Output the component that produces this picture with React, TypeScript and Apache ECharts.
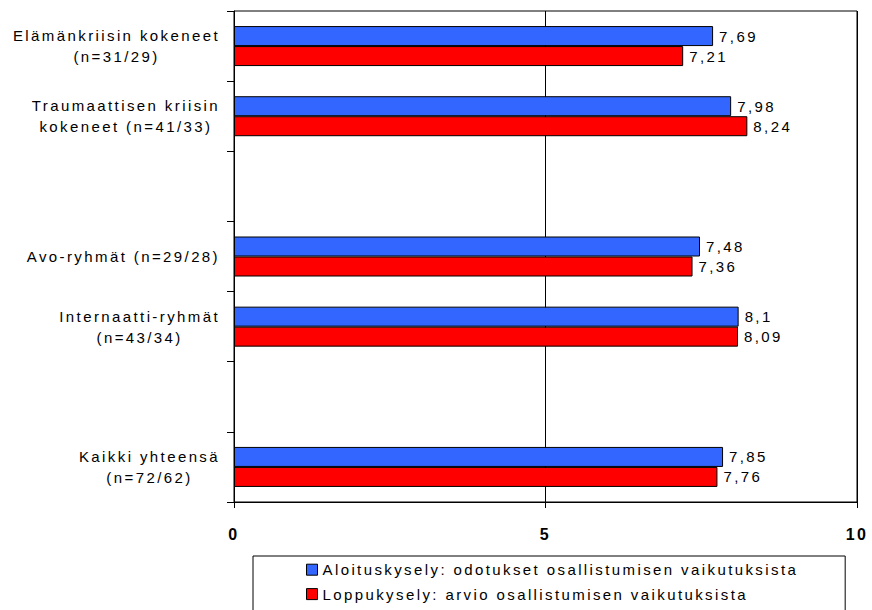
import React, { useEffect, useRef } from 'react';
import * as echarts from 'echarts';

// ---- data ----
const categories = [
  'Elämänkriisin kokeneet\n(n=31/29)',
  'Traumaattisen kriisin\nkokeneet (n=41/33)',
  '',
  'Avo-ryhmät (n=29/28)',
  'Internaatti-ryhmät\n(n=43/34)',
  '',
  'Kaikki yhteensä\n(n=72/62)',
];
const seriesNames = [
  'Aloituskysely: odotukset osallistumisen vaikutuksista',
  'Loppukysely: arvio osallistumisen vaikutuksista',
];
const startValues = [7.69, 7.98, '-', 7.48, 8.1, '-', 7.85];
const endValues = [7.21, 8.24, '-', 7.36, 8.09, '-', 7.76];
const xMin = 0;
const xMax = 10;
const xInterval = 5;

// ---- styles ----
const FONT = 'Liberation Sans, Arial, sans-serif';
const LETTER_SPACING = 2.4;

// Make ECharts' text measurement aware of the (CSS) letter spacing
const measureCtx =
  typeof document !== 'undefined' ? document.createElement('canvas').getContext('2d') : null;
if (measureCtx && typeof (echarts as any).setPlatformAPI === 'function') {
  (echarts as any).setPlatformAPI({
    measureText(text: string, font?: string) {
      measureCtx.font = font || '12px sans-serif';
      const m = measureCtx.measureText(text || '');
      const n = text ? text.length : 0;
      return {
        width: m.width + LETTER_SPACING * n,
        actualBoundingBoxAscent: m.actualBoundingBoxAscent,
        actualBoundingBoxDescent: m.actualBoundingBoxDescent,
        actualBoundingBoxLeft: m.actualBoundingBoxLeft,
        actualBoundingBoxRight: m.actualBoundingBoxRight,
        fontBoundingBoxAscent: (m as any).fontBoundingBoxAscent,
        fontBoundingBoxDescent: (m as any).fontBoundingBoxDescent,
      };
    },
  });
}

const valueLabel = {
  show: true,
  position: 'right',
  distance: 6,
  fontSize: 15,
  fontFamily: FONT,
  color: '#000',
  formatter: (p: any) => String(p.value).replace('.', ','),
};

export default function App() {
  const ref = useRef<HTMLDivElement>(null);
  useEffect(() => {
    if (!ref.current) return;
    const chart = echarts.init(ref.current, null, { renderer: 'svg' });
    chart.setOption({
      animation: false,
      backgroundColor: '#fff',
      textStyle: { fontFamily: FONT, color: '#000' },
      grid: {
        left: 234,
        right: 15,
        top: 11,
        bottom: 108,
        containLabel: false,
        outerBoundsMode: 'none',
        show: true,
        borderColor: '#000',
        borderWidth: 1,
        backgroundColor: 'transparent',
      },
      xAxis: {
        type: 'value',
        min: xMin,
        max: xMax,
        interval: xInterval,
        position: 'bottom',
        axisLine: { show: true, lineStyle: { color: '#000', width: 1 } },
        axisTick: { show: true, length: 6, lineStyle: { color: '#000', width: 1 } },
        splitLine: { show: true, lineStyle: { color: '#000', width: 1 } },
        axisLabel: {
          margin: 23,
          fontSize: 16,
          fontWeight: 'bold',
          fontFamily: FONT,
          color: '#000',
        },
      },
      yAxis: {
        type: 'category',
        data: categories,
        inverse: true,
        axisLine: { show: true, onZero: false, lineStyle: { color: '#000', width: 1 } },
        axisTick: { show: true, length: 7, interval: 0, lineStyle: { color: '#000', width: 1 } },
        splitLine: { show: false },
        axisLabel: {
          interval: 0,
          margin: 14,
          align: 'right',
          fontSize: 15,
          lineHeight: 21,
          fontFamily: FONT,
          color: '#000',
          formatter: (v: string) =>
            v ? v.split('\n').map((l) => `{c|${l}}`).join('\n') : '',
          rich: {
            c: { align: 'center', fontSize: 15, lineHeight: 21, fontFamily: FONT, color: '#000' },
          },
        },
      },
      legend: {
        data: seriesNames,
        orient: 'vertical',
        left: 253,
        top: 556,
        height: 80,
        padding: [5, 47, 14, 53],
        itemWidth: 11,
        itemHeight: 11,
        itemGap: 7,
        icon: 'rect',
        borderColor: '#000',
        borderWidth: 1,
        backgroundColor: '#fff',
        textStyle: { fontSize: 15, fontFamily: FONT, color: '#000' },
        itemStyle: { borderColor: '#000', borderWidth: 1 },
      },
      series: [
        {
          name: seriesNames[0],
          type: 'bar',
          data: startValues,
          barWidth: 20,
          barGap: '0%',
          itemStyle: { color: '#3366FF', borderColor: '#000', borderWidth: 1 },
          label: valueLabel,
        },
        {
          name: seriesNames[1],
          type: 'bar',
          data: endValues,
          barWidth: 20,
          barGap: '0%',
          itemStyle: { color: '#FF0000', borderColor: '#000', borderWidth: 1 },
          label: valueLabel,
        },
      ],
    });
    return () => chart.dispose();
  }, []);
  return (
    <>
      <style>{`body{margin:0} .chart-box text{letter-spacing:${LETTER_SPACING}px}`}</style>
      <div
        ref={ref}
        className="chart-box"
        style={{ position: 'absolute', left: 0, top: 0, width: 872, height: 610, background: '#fff' }}
      />
    </>
  );
}
